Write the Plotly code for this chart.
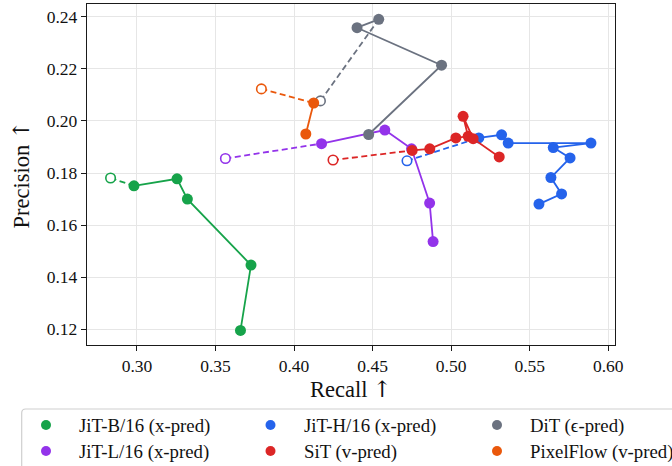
import plotly.graph_objects as go

# Model names, colours and legend layout (two rows of three)
models = ["JiT-B/16 (x-pred)", "JiT-L/16 (x-pred)", "JiT-H/16 (x-pred)",
          "DiT (ϵ-pred)", "SiT (v-pred)", "PixelFlow (v-pred)"]
colors = ["#16a34a", "#9333ea", "#2563eb", "#6b7280", "#dc2626", "#ea580c"]
legend_rows = [[0, 2, 3], [1, 4, 5]]

# Recall / precision per run; the first entry is the hollow starting point
jit_b_recall = [0.2832, 0.2981, 0.3255, 0.3321, 0.3726, 0.3659]
jit_b_precision = [0.1781, 0.1751, 0.1778, 0.1700, 0.1447, 0.1196]

jit_l_recall = [0.3563, 0.4175, 0.4578, 0.4748, 0.4863, 0.4885]
jit_l_precision = [0.1856, 0.1913, 0.1965, 0.1893, 0.1685, 0.1537]

jit_h_recall = [0.4719, 0.5176, 0.5321, 0.5363, 0.5890, 0.5650, 0.5757, 0.5635, 0.5703, 0.5559]
jit_h_precision = [0.1847, 0.1935, 0.1947, 0.1915, 0.1915, 0.1898, 0.1858, 0.1783, 0.1720, 0.1681]

dit_recall = [0.4168, 0.4539, 0.4401, 0.4939, 0.4475]
dit_precision = [0.2077, 0.2390, 0.2358, 0.2214, 0.1948]

sit_recall = [0.4248, 0.4752, 0.4864, 0.5030, 0.5108, 0.5076, 0.5140, 0.5306]
sit_precision = [0.1850, 0.1887, 0.1893, 0.1935, 0.1941, 0.2018, 0.1932, 0.1862]

pixelflow_recall = [0.3792, 0.4125, 0.4075]
pixelflow_precision = [0.2123, 0.2069, 0.1950]

recalls = [jit_b_recall, jit_l_recall, jit_h_recall, dit_recall, sit_recall, pixelflow_recall]
precisions = [jit_b_precision, jit_l_precision, jit_h_precision, dit_precision,
              sit_precision, pixelflow_precision]

x_ticks = [0.30, 0.35, 0.40, 0.45, 0.50, 0.55, 0.60]
y_ticks = [0.12, 0.14, 0.16, 0.18, 0.20, 0.22, 0.24]

FONT = "Liberation Serif, DejaVu Serif, serif"
TEXT = "#111111"
ARROW = "<span style='font-family:DejaVu Serif;color:#111111'>↑</span>"
MARKER_SIZE = 11
LINE_W = 1.8

# figure geometry (pixels)
W, H = 672, 466
ML, MR, MT, MB = 87, 57, 4, 121
PW, PH = W - ML - MR, H - MT - MB


def px_x(px):
    return (px - ML) / PW


def px_y(py):
    return (H - MB - py) / PH


fig = go.Figure()

for name, col, xs, ys in zip(models, colors, recalls, precisions):
    # dashed link from the starting point to the first filled point
    fig.add_trace(go.Scatter(
        x=xs[:2], y=ys[:2], mode="lines",
        line=dict(color=col, width=LINE_W, dash="6px,3.5px"),
        showlegend=False, hoverinfo="skip"))
    # solid trajectory through the filled points
    fig.add_trace(go.Scatter(
        x=xs[1:], y=ys[1:], mode="lines+markers",
        line=dict(color=col, width=LINE_W),
        marker=dict(color=col, size=MARKER_SIZE, line=dict(width=0)),
        name=name, showlegend=False))
    # hollow starting point
    fig.add_trace(go.Scatter(
        x=xs[:1], y=ys[:1], mode="markers",
        marker=dict(color="white", size=MARKER_SIZE - 1.5,
                    line=dict(color=col, width=1.6)),
        showlegend=False, hoverinfo="skip"))

axis_common = dict(
    showline=True, linecolor="#1a1a1a", linewidth=1.3, mirror=True,
    ticks="outside", ticklen=5, tickwidth=1.1, tickcolor="#1a1a1a",
    showgrid=True, gridcolor="#e6e6e6", gridwidth=1,
    zeroline=False, tickformat=".2f",
    tickfont=dict(family=FONT, size=17.5, color=TEXT),
)

shapes = []
annotations = []

# legend frame (rounded top-left corner, runs past the right/bottom edge)
bx0, by0, bx1, by1, r = 21.7, 409.0, 700.0, 490.0, 4.0
path = (f"M {px_x(bx0)},{px_y(by1)} L {px_x(bx0)},{px_y(by0 + r)} "
        f"Q {px_x(bx0)},{px_y(by0)} {px_x(bx0 + r)},{px_y(by0)} "
        f"L {px_x(bx1)},{px_y(by0)} L {px_x(bx1)},{px_y(by1)} Z")
shapes.append(dict(type="path", xref="paper", yref="paper", path=path,
                   fillcolor="white", line=dict(color="#cfcfcf", width=1.2),
                   layer="above"))

col_marker_px = [46.0, 270.5, 497.0]
col_text_px = [76.5, 301.5, 528.0]
row_px = [425.0, 451.0]
for r_i, row in enumerate(legend_rows):
    for c_i, m in enumerate(row):
        shapes.append(dict(
            type="circle", xref="paper", yref="paper",
            xsizemode="pixel", ysizemode="pixel",
            xanchor=px_x(col_marker_px[c_i]), yanchor=px_y(row_px[r_i]),
            x0=-5, x1=5, y0=-5, y1=5,
            fillcolor=colors[m], line=dict(width=0), layer="above"))
        annotations.append(dict(
            text=models[m], xref="paper", yref="paper",
            x=px_x(col_text_px[c_i]), y=px_y(row_px[r_i] + 1),
            xanchor="left", yanchor="middle", showarrow=False,
            font=dict(family=FONT, size=18.8, color=TEXT)))

# axis titles
annotations.append(dict(
    text="Recall " + ARROW, xref="paper", yref="paper",
    x=0.5, y=px_y(389), xanchor="center", yanchor="middle", showarrow=False,
    font=dict(family=FONT, size=22.5, color=TEXT)))
annotations.append(dict(
    text="Precision " + ARROW, xref="paper", yref="paper", textangle=-90,
    x=px_x(20), y=0.5, xanchor="center", yanchor="middle", showarrow=False,
    font=dict(family=FONT, size=22.5, color=TEXT)))

fig.update_layout(
    width=W, height=H,
    paper_bgcolor="white", plot_bgcolor="white",
    margin=dict(l=ML, r=MR, t=MT, b=MB, autoexpand=False),
    font=dict(family=FONT, color=TEXT),
    xaxis=dict(range=[0.2682, 0.6043], tickvals=x_ticks, **axis_common),
    yaxis=dict(range=[0.1140, 0.2449], tickvals=y_ticks, **axis_common),
    showlegend=False,
    shapes=shapes,
    annotations=annotations,
)

fig.write_html("out.html")
